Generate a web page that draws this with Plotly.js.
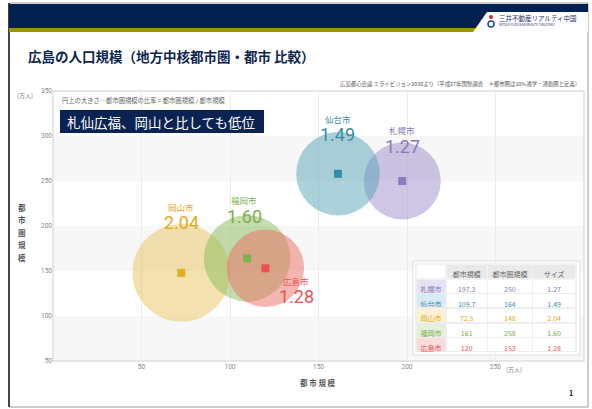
<!DOCTYPE html>
<html><head><meta charset="utf-8">
<script src="https://cdn.plot.ly/plotly-3.0.1.min.js"></script>
<style>html,body{margin:0;padding:0;background:#fff}#chart{width:592px;height:409px}</style>
</head><body><div id="chart"></div>
<script>
// ---- data ----
const cities = ['札幌市','仙台市','岡山市','福岡市','広島市'];
const bubbleX = [197.3, 161, 72.5, 109.7, 120];
const bubbleY = [250, 258, 148, 164, 153];
const sizeRatio = [1.27, 1.49, 2.04, 1.60, 1.28];
const sizeLabels = ['1.27','1.49','2.04','1.60','1.28'];
const tableHeader = ['', '都市規模', '都市圏規模', 'サイズ'];
const tableCityPop = ['197.3','109.7','72.5','161','120'];
const tableMetroPop = ['250','164','148','258','153'];
const xTicks = [50,100,150,200,250];
const xTickText = ['50','100','150','200','250'];
const yTicks = [50,100,150,200,250,300,350];
const yAxisTitle = ['都','市','圏','規','模'];

// ---- styles ----
const JP = '"Noto Sans CJK JP", "Noto Sans", sans-serif';
const NUM = 'Roboto, "Noto Sans", sans-serif';
const solidColors = ['#8c79bf','#2f8ea9','#e2ad22','#7fb24a','#ea5151'];
const bubbleColors = ['rgba(160,140,202,0.5)','rgba(88,163,184,0.5)','rgba(229,190,80,0.45)','rgba(140,185,90,0.5)','rgba(236,110,100,0.5)'];
const labelColors = ['#8a78b8','#3a8ba6','#e2aa22','#7dad4c','#e65353'];
const firstColFill = ['#e7e2f3','#d9ebf2','#fdf1d4','#e5efdb','#fadcdc'];
const nameShift = [[0,51],[0,55],[0,66],[-3,58],[31,-13]];
const numShift = [[0,35],[0,39],[0,50],[-3,42],[31,-28]];

const L=53, T=91, W=531, H=270;
const px = v => (v-L)/W;
const py = v => (T+H-v)/H;
const white5 = ['#fff','#fff','#fff','#fff','#fff'];

const traces = [
  {type:'scatter', mode:'markers', x:bubbleX, y:bubbleY, hoverinfo:'skip',
   marker:{size:sizeRatio, sizemode:'area', sizeref:1/(2*34.2*34.2), color:bubbleColors, opacity:1, line:{width:0}}},
  {type:'scatter', mode:'markers', x:bubbleX, y:bubbleY, hoverinfo:'skip',
   marker:{symbol:'square', size:8, color:solidColors, opacity:1, line:{width:0}}},
  {type:'table', domain:{x:[px(416),px(577)], y:[py(352),py(264)]},
   columnwidth:[30,42,45,44],
   header:{values:tableHeader, align:'center', height:15,
     fill:{color:['#ffffff','#e9e9e9','#e9e9e9','#e9e9e9']},
     font:{family:JP, size:7, color:'#666'}, line:{color:'#f2f2f2', width:1.5}},
   cells:{values:[cities, tableCityPop, tableMetroPop, sizeLabels], align:'center', height:14.6,
     fill:{color:[firstColFill, white5, white5, white5]},
     font:{family:JP, size:7, color:[labelColors, labelColors, labelColors, labelColors]},
     line:{color:'#eeeeee', width:1.5}}
  }
];

const shapes = [];
// page frame
shapes.push({type:'rect', xref:'paper', yref:'paper', x0:px(9), x1:px(588), y0:py(407), y1:py(3), line:{color:'#9a9a9a', width:1}, layer:'below'});
shapes.push({type:'line', xref:'paper', yref:'paper', x0:px(9), x1:px(9), y0:py(407), y1:py(3), line:{color:'#444', width:2}, layer:'below'});
// header bar
shapes.push({type:'rect', xref:'paper', yref:'paper', x0:px(9), x1:px(588), y0:py(28), y1:py(4), fillcolor:'#032150', line:{width:0}, layer:'below'});
shapes.push({type:'rect', xref:'paper', yref:'paper', x0:px(9), x1:px(476), y0:py(32), y1:py(28), fillcolor:'#9b9600', line:{width:0}, layer:'below'});
shapes.push({type:'path', xref:'paper', yref:'paper', path:`M ${px(487)} ${py(12)} L ${px(588)} ${py(12)} L ${px(588)} ${py(32)} L ${px(473)} ${py(32)} Z`, fillcolor:'#ffffff', line:{width:0}, layer:'below'});
// logo icon
shapes.push({type:'circle', xref:'paper', yref:'paper', x0:px(489), x1:px(493), y0:py(19), y1:py(15), fillcolor:'#d9262c', line:{width:0}});
shapes.push({type:'circle', xref:'paper', yref:'paper', x0:px(488), x1:px(494), y0:py(27), y1:py(21), fillcolor:'rgba(0,0,0,0)', line:{color:'#1b4a9a', width:1.5}});
// bands
[[50,100],[150,200],[250,300]].forEach(b=>shapes.push({type:'rect', xref:'paper', yref:'y', x0:0, x1:1, y0:b[0], y1:b[1], fillcolor:'#f7f7f7', line:{width:0}, layer:'below'}));
// plot frame
shapes.push({type:'rect', xref:'paper', yref:'paper', x0:0, x1:1, y0:0, y1:1, line:{color:'#dedede', width:1.5}, layer:'below'});
// table frame
shapes.push({type:'rect', xref:'paper', yref:'paper', x0:px(413), x1:px(580), y0:py(355), y1:py(261), fillcolor:'#ffffff', line:{color:'#dddddd', width:1}, layer:'below'});
// callout box
shapes.push({type:'rect', xref:'paper', yref:'paper', x0:px(60), x1:px(264), y0:py(133), y1:py(110), fillcolor:'#0b2352', line:{width:0}, layer:'above'});

const ann = [];
const A = (x,y,text,size,color,opts={}) => ann.push(Object.assign({xref:'paper', yref:'paper', x:px(x), y:py(y), text:text, showarrow:false, xanchor:'left', yanchor:'middle', font:{family:JP, size:size, color:color}}, opts));
A(26, 56, '<b>広島の人口規模（地方中核都市圏・都市 比較）</b>', 13.5, '#0d2650');
A(497, 18, '三井不動産リアルティ中国', 6.5, '#1c2f66');
A(497, 24.5, 'MITSUI FUDOSAN REALTY CHUGOKU', 3.3, '#1c2f66');
A(582, 84, '広島都心会議 ミライビジョン2030より（平成27年国勢調査　＊都市圏は10%通学・通勤圏と定義）', 5.4, '#555', {xanchor:'right'});
A(60, 100, '円上の大きさ…都市圏規模の比率 = 都市圏規模 / 都市規模', 6.3, '#666');
A(65, 121.5, '札仙広福、岡山と比しても低位', 13.5, '#ffffff');
A(15, 95, '(万人)', 6, '#777');
A(504, 369, '(万人)', 6, '#777');
A(571, 393, '<b>1</b>', 7, '#111', {xanchor:'center'});
A(318, 382, '<b>都 市 規 模</b>', 7.5, '#555', {xanchor:'center'});
yAxisTitle.forEach((c,i)=>A(22, 207+i*12.6, '<b>'+c+'</b>', 7.5, '#555', {xanchor:'center'}));
cities.forEach((c,i)=>{
  ann.push({x:bubbleX[i], y:bubbleY[i], xref:'x', yref:'y', text:c, showarrow:false, xshift:nameShift[i][0], yshift:nameShift[i][1], font:{family:JP, size:8.5, color:labelColors[i]}});
  ann.push({x:bubbleX[i], y:bubbleY[i], xref:'x', yref:'y', text:sizeLabels[i], showarrow:false, xshift:numShift[i][0], yshift:numShift[i][1], font:{family:NUM, size:18, color:labelColors[i]}});
});

const layout = {
  width:592, height:409, margin:{l:L, r:592-L-W, t:T, b:409-T-H},
  paper_bgcolor:'#ffffff', plot_bgcolor:'rgba(0,0,0,0)', showlegend:false,
  xaxis:{range:[0,300], tickvals:xTicks, ticktext:xTickText, showgrid:true, gridcolor:'#ececec', gridwidth:1, zeroline:false, showline:false, ticks:'', tickfont:{family:NUM, size:6.5, color:'#888'}, fixedrange:true},
  yaxis:{range:[50,350], tickvals:yTicks, showgrid:false, zeroline:false, showline:false, ticks:'', tickfont:{family:NUM, size:6.5, color:'#888'}, fixedrange:true},
  shapes:shapes, annotations:ann, font:{family:JP}
};
Plotly.newPlot('chart', traces, layout, {staticPlot:true, displayModeBar:false});
</script></body></html>
